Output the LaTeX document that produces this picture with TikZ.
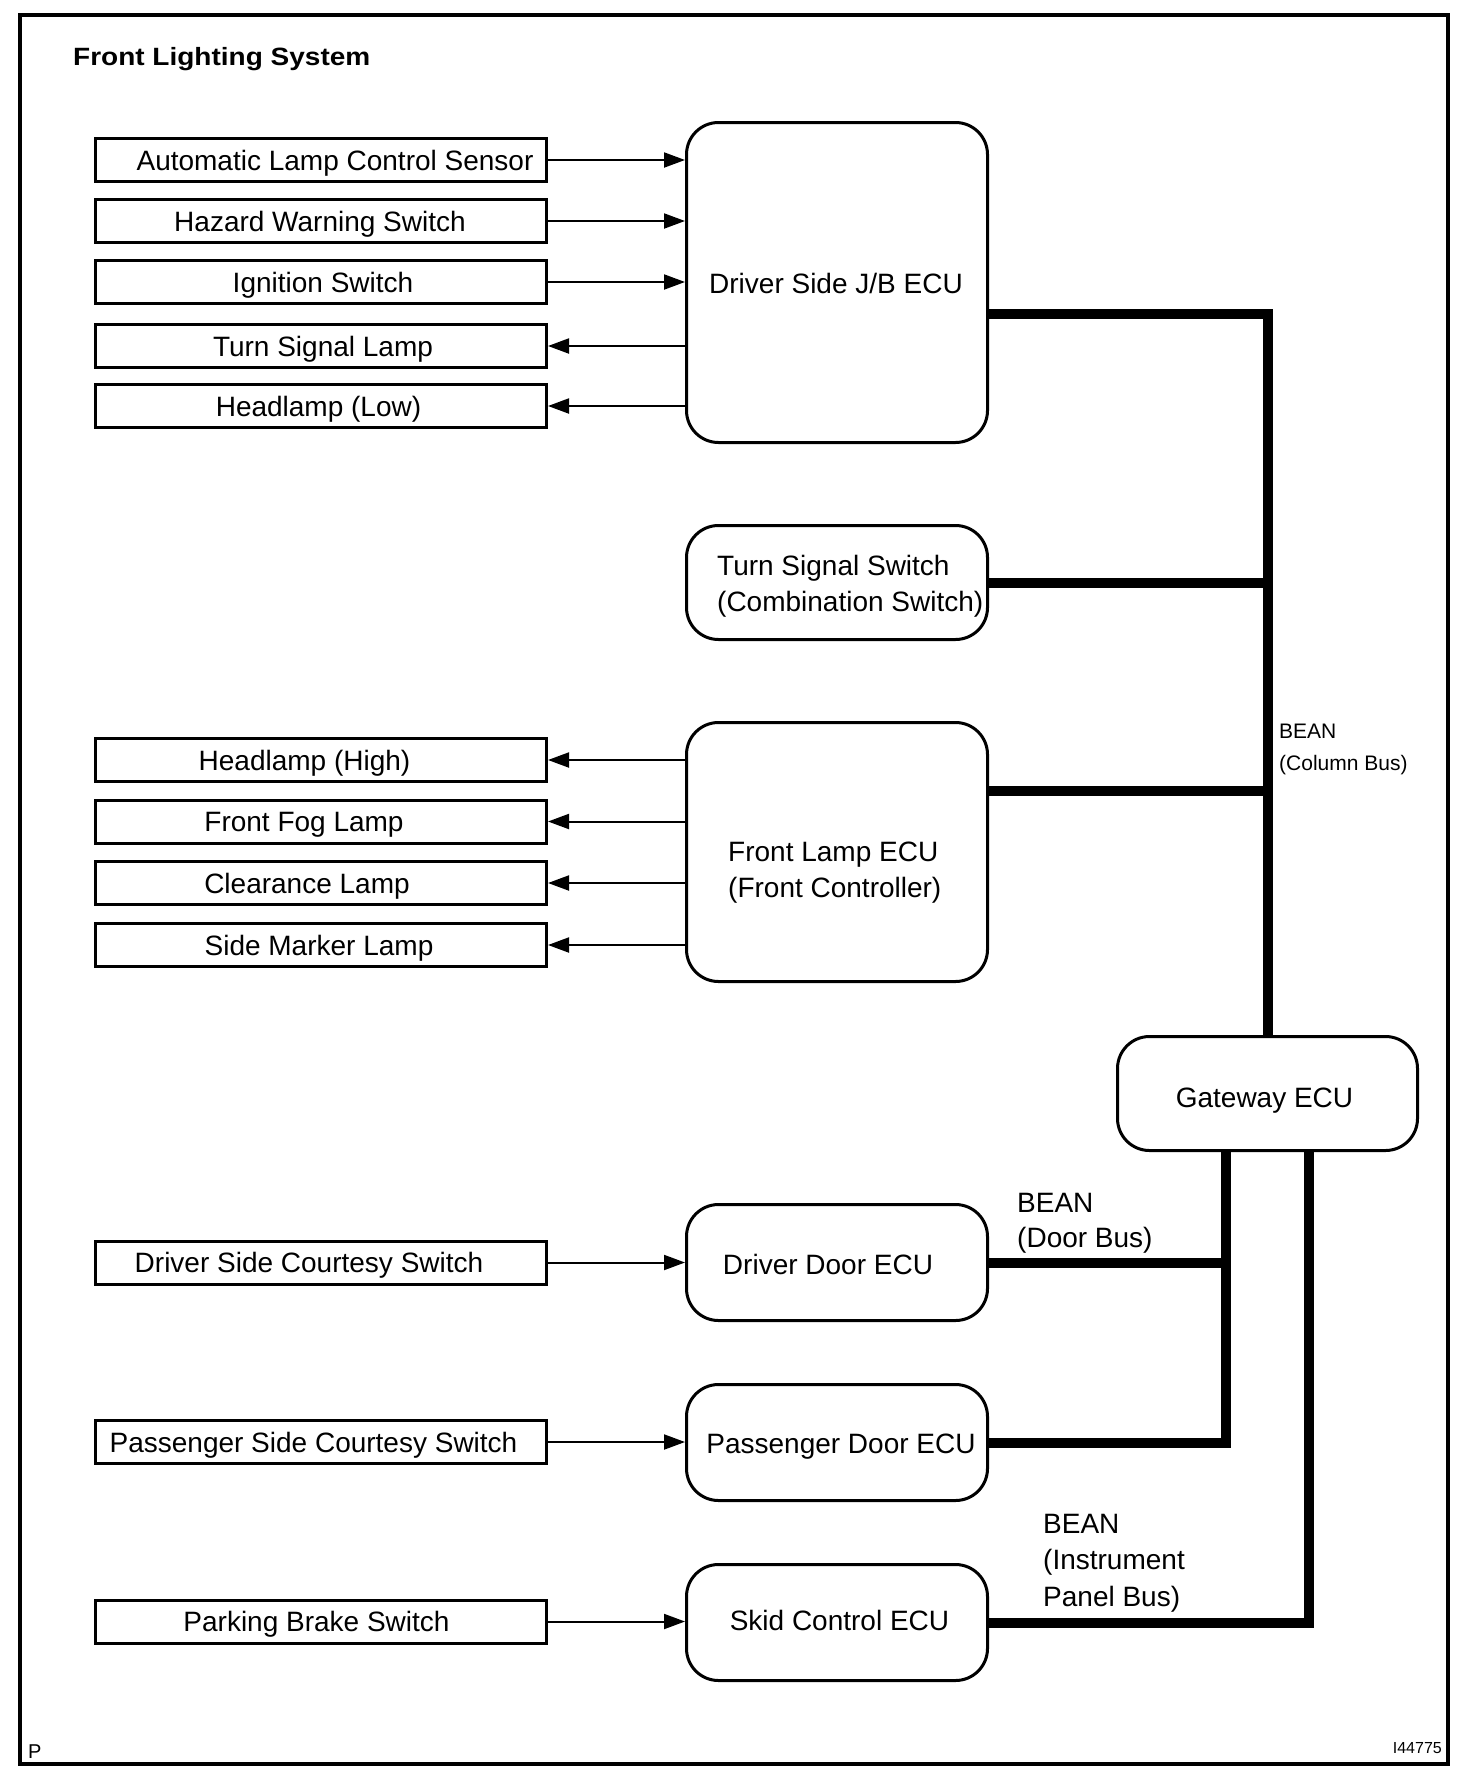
\documentclass[tikz,border=0pt]{standalone}
\usepackage{fontspec}
\setmainfont{Liberation Sans}
\usepackage{graphicx}
\usetikzlibrary{arrows.meta}
\begin{document}
\begin{tikzpicture}[x=1pt,y=-1pt,
  inbox/.style={draw, line width=3pt, minimum width=451pt, minimum height=43pt, inner sep=0pt},
  ecu/.style={draw, line width=3pt, rounded corners=32pt, inner sep=0pt},
  txt/.style={font=\fontsize{28}{34}\selectfont, inner sep=0pt, text height=20pt, text depth=0pt},
  btxt/.style={font=\fontsize{28}{34}\selectfont, inner sep=0pt, anchor=base west},
  stxt/.style={font=\fontsize{21}{25}\selectfont, inner sep=0pt, anchor=base west},
  conn/.style={line width=2pt, -{Triangle[length=21pt,width=15pt]}},
  bus/.style={line width=10pt, line join=miter}]
\useasboundingbox (0,0) rectangle (1472,1786);
\fill[white] (0,0) rectangle (1472,1786);
% frame
\draw[line width=4pt] (20,15) rectangle (1448,1764);
\node[inner sep=0pt, anchor=base west] (title) at (73,65)
  {\scalebox{1.12}[1]{\fontsize{25}{30}\selectfont\bfseries Front Lighting System}};
\node[inner sep=0pt, anchor=base west, font=\fontsize{20}{22}\selectfont] (pmark) at (28,1758) {P};
\node[inner sep=0pt, anchor=base east, font=\fontsize{16}{18}\selectfont] (fignum) at (1442,1753) {I44775};

% ECU boxes
\node[ecu, minimum width=301pt, minimum height=320pt] (jb)  at (837,282.5) {};
\node[ecu, minimum width=301pt, minimum height=114pt] (tss) at (837,582.5) {};
\node[ecu, minimum width=301pt, minimum height=259pt] (fl)  at (837,852) {};
\node[ecu, minimum width=300pt, minimum height=114pt] (gw)  at (1267.5,1093.5) {};
\node[ecu, minimum width=301pt, minimum height=116pt] (dd)  at (837,1262.5) {};
\node[ecu, minimum width=301pt, minimum height=116pt] (pd)  at (837,1442.5) {};
\node[ecu, minimum width=301pt, minimum height=116pt] (sk)  at (837,1622.5) {};

\node[txt] (jbt) at (836,283) {Driver Side J/B ECU};
\node[btxt] (tsst1) at (717,575) {Turn Signal Switch};
\node[btxt] (tsst2) at (717,611) {(Combination Switch)};
\node[btxt] (flt1) at (728,861) {Front Lamp ECU};
\node[btxt] (flt2) at (728,897) {(Front Controller)};
\node[txt] (gwt) at (1264.5,1097) {Gateway ECU};
\node[txt] (ddt) at (828,1264.5) {Driver Door ECU};
\node[txt] (pdt) at (841,1443) {Passenger Door ECU};
\node[txt] (skt) at (839.5,1620) {Skid Control ECU};

% left boxes
\node[inbox] (a1) at (321,160) {};
\node[inbox] (a2) at (321,221) {};
\node[inbox] (a3) at (321,282) {};
\node[inbox] (a4) at (321,346) {};
\node[inbox] (a5) at (321,406) {};
\node[inbox] (b1) at (321,760) {};
\node[inbox] (b2) at (321,821.5) {};
\node[inbox] (b3) at (321,883) {};
\node[inbox] (b4) at (321,945) {};
\node[inbox] (c1) at (321,1262.5) {};
\node[inbox] (c2) at (321,1442) {};
\node[inbox] (c3) at (321,1621.5) {};

\node[txt] (a1t) at (335,160) {Automatic Lamp Control Sensor};
\node[txt] (a2t) at (320,221) {Hazard Warning Switch};
\node[txt] (a3t) at (323,282) {Ignition Switch};
\node[txt] (a4t) at (323,346) {Turn Signal Lamp};
\node[txt] (a5t) at (318.5,406) {Headlamp (Low)};
\node[txt] (b1t) at (304.5,760) {Headlamp (High)};
\node[txt] (b2t) at (304,821.5) {Front Fog Lamp};
\node[txt] (b3t) at (307,883) {Clearance Lamp};
\node[txt] (b4t) at (319,945) {Side Marker Lamp};
\node[txt] (c1t) at (309,1262.5) {Driver Side Courtesy Switch};
\node[txt] (c2t) at (313.5,1442) {Passenger Side Courtesy Switch};
\node[txt] (c3t) at (316.5,1621.5) {Parking Brake Switch};

% thin connectors
\draw[conn] (a1.east) -- (a1.east -| jb.west);
\draw[conn] (a2.east) -- (a2.east -| jb.west);
\draw[conn] (a3.east) -- (a3.east -| jb.west);
\draw[conn] (a4.east -| jb.west) -- (a4.east);
\draw[conn] (a5.east -| jb.west) -- (a5.east);
\draw[conn] (b1.east -| fl.west) -- (b1.east);
\draw[conn] (b2.east -| fl.west) -- (b2.east);
\draw[conn] (b3.east -| fl.west) -- (b3.east);
\draw[conn] (b4.east -| fl.west) -- (b4.east);
\draw[conn] (c1.east) -- (c1.east -| dd.west);
\draw[conn] (c2.east) -- (c2.east -| pd.west);
\draw[conn] (c3.east) -- (c3.east -| sk.west);

% buses
\coordinate (cb1) at (1267.5,314);
\coordinate (cb3) at (1267.5,791);
\coordinate (db) at (1226,1300);
\coordinate (ib) at (1309,1300);
\draw[bus] (jb.east |- cb1) -| (gw.north);
\draw[bus] (tss.east) -- (tss.east -| gw.north);
\draw[bus] (fl.east |- cb3) -- (cb3);
\draw[bus] (gw.south -| db) |- (pd.east);
\draw[bus] (dd.east) -- (dd.east -| db);
\draw[bus] (gw.south -| ib) |- (sk.east);

% bus labels
\node[stxt] (cbl1) at (1279,738.5) {BEAN};
\node[stxt] (cbl2) at (1279,770.7) {(Column Bus)};
\node[btxt] (dbl1) at (1017,1212) {BEAN};
\node[btxt] (dbl2) at (1017,1247) {(Door Bus)};
\node[btxt] (ibl1) at (1043,1533) {BEAN};
\node[btxt] (ibl2) at (1043,1569) {(Instrument};
\node[btxt] (ibl3) at (1043,1606) {Panel Bus)};
\end{tikzpicture}
\end{document}
